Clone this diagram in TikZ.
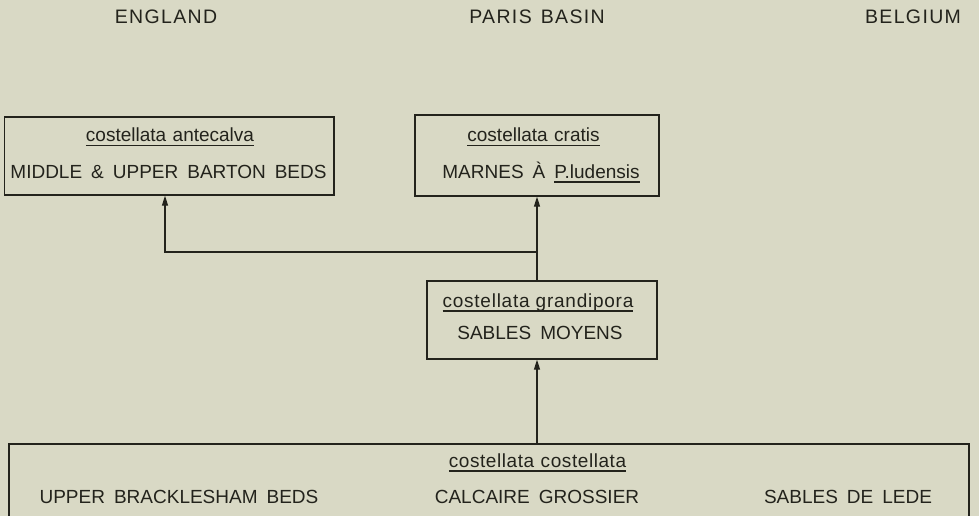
\documentclass[tikz,border=0pt]{standalone}
\usepackage{fontspec}
\setmainfont{Liberation Sans}
\newfontfamily\headfont{Liberation Sans}[LetterSpace=7]
\usetikzlibrary{arrows.meta}
\definecolor{bg}{RGB}{217,217,197}
\definecolor{ink}{RGB}{35,35,28}
\newcommand\myul[1]{\setbox0\hbox{#1}\rlap{\rule[-4.5pt]{\wd0}{1.1pt}}\box0}
\newcommand\ws{\hspace{9pt}}
\newcommand\ls{\hspace{6.5pt}}
\begin{document}
\begin{tikzpicture}[x=1pt,y=-1pt,
  box/.style={draw=ink,line width=1.3pt,minimum width=#1,inner sep=0pt},
  txt/.style={text=ink,anchor=base,inner sep=0pt,font=\fontsize{19}{22}\selectfont},
  head/.style={text=ink,anchor=base,inner sep=0pt,font=\headfont\fontsize{19.5}{22}\selectfont},
  wire/.style={draw=ink,line width=1.2pt},
  arr/.style={wire,-{Triangle[length=10pt,width=6pt]}}]
\fill[bg] (0,0) rectangle (979,516);
\clip (0,0) rectangle (979,516);
% headers
\node[head] (hE) at (166,24) {ENGLAND};
\node[head] (hP) at (537,24) {PARIS\ws BASIN};
\node[head] (hB) at (913,24) {BELGIUM};
% boxes
\node[box=329.5pt,minimum height=78pt] (b1) at (169.25,156) {};
\node[box=244pt,minimum height=81pt] (b2) at (537,155.5) {};
\node[box=230pt,minimum height=78pt] (b3) at (542,320) {};
\node[box=960pt,minimum height=140pt] (bot) at (489,514) {};
% box texts
\node[txt] (t1a) at (170,142) {\myul{costellata\ls antecalva}};
\node[txt] (t1b) at (168.5,178) {MIDDLE\ws\&\ws UPPER\ws BARTON\ws BEDS};
\node[txt] (t2a) at (533.5,142) {\myul{costellata\ls cratis}};
\node[txt] (t2b) at (541,178) {MARNES\ws À\ws \myul{P.ludensis}};
\node[txt] (t3a) at (538,307) {\myul{\addfontfeature{LetterSpace=4}costellata\ grandipora}};
\node[txt] (t3b) at (540,339) {SABLES\ws MOYENS};
\node[txt] (t4a) at (537.5,467) {\myul{\addfontfeature{LetterSpace=3}costellata\ls costellata}};
\node[txt] (t4b) at (179,503) {UPPER\ws BRACKLESHAM\ws BEDS};
\node[txt] (t4c) at (537,503) {CALCAIRE\ws GROSSIER};
\node[txt] (t4d) at (848,503) {SABLES\ws DE\ws LEDE};
% connectors
\coordinate (j) at (537,252);
\coordinate (k) at (165,252);
\draw[arr] (bot.north -| j) -- (b3.south -| j);
\draw[arr] (b3.north -| j) -- (b2.south -| j);
\draw[arr] (j) -- (k) -- (b1.south -| k);
\end{tikzpicture}
\end{document}
